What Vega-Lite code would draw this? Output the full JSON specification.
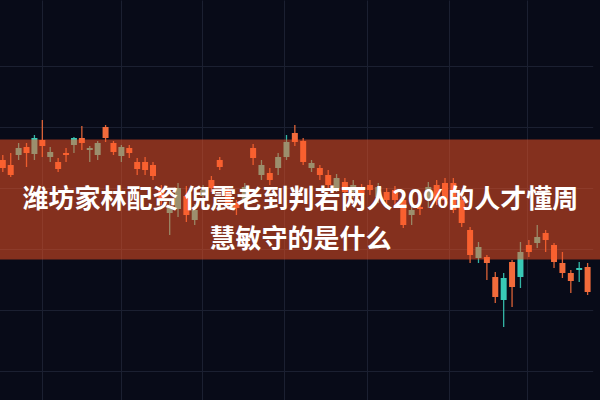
{
  "$schema": "https://vega.github.io/schema/vega-lite/v6.json",
  "width": 600,
  "height": 400,
  "autosize": {"type": "fit", "contains": "padding"},
  "padding": 0,
  "background": "#080b18",
  "config": {
    "view": {"stroke": null},
    "axis": {
      "grid": true,
      "gridColor": "#1b2031",
      "gridWidth": 1,
      "labels": false,
      "ticks": false,
      "domain": false,
      "title": null
    }
  },
  "data": {
    "values": [
      {"t": -1, "open": 58, "close": 60, "high": 61.25, "low": 57},
      {"t": 0, "open": 56.25, "close": 58.75, "high": 61.75, "low": 55.75},
      {"t": 1, "open": 63, "close": 61.25, "high": 64.25, "low": 60},
      {"t": 2, "open": 61.75, "close": 63.25, "high": 64.25, "low": 58.25},
      {"t": 3, "open": 65.5, "close": 61.5, "high": 66.25, "low": 60},
      {"t": 4, "open": 63.5, "close": 65, "high": 70, "low": 60.75},
      {"t": 5, "open": 62, "close": 60.75, "high": 63.25, "low": 59.5},
      {"t": 6, "open": 57.75, "close": 59.5, "high": 60.5, "low": 57},
      {"t": 7, "open": 61.25, "close": 61.75, "high": 63, "low": 59.5},
      {"t": 8, "open": 65.5, "close": 63.75, "high": 65.75, "low": 61.75},
      {"t": 9, "open": 64.25, "close": 65.5, "high": 68.5, "low": 62.5},
      {"t": 10, "open": 63, "close": 62.5, "high": 63.5, "low": 59.5},
      {"t": 11, "open": 64.25, "close": 61.25, "high": 64.75, "low": 60},
      {"t": 12, "open": 65.5, "close": 68.25, "high": 68.75, "low": 64.5},
      {"t": 13, "open": 62, "close": 64.25, "high": 64.75, "low": 61.25},
      {"t": 14, "open": 63.25, "close": 61, "high": 63.75, "low": 59.5},
      {"t": 15, "open": 61.75, "close": 63, "high": 63.75, "low": 60.5},
      {"t": 16, "open": 57.75, "close": 59.5, "high": 60.5, "low": 56.25},
      {"t": 17, "open": 57.5, "close": 59.5, "high": 60.75, "low": 56.25},
      {"t": 18, "open": 56, "close": 58.75, "high": 59.5, "low": 55},
      {"t": 19, "open": 50, "close": 52.5, "high": 53.75, "low": 48.75},
      {"t": 20, "open": 48.25, "close": 46.75, "high": 50, "low": 41.25},
      {"t": 21, "open": 53, "close": 47.75, "high": 54.25, "low": 45.75},
      {"t": 22, "open": 46.25, "close": 51, "high": 53.5, "low": 44.5},
      {"t": 23, "open": 47.5, "close": 45, "high": 49, "low": 43.75},
      {"t": 24, "open": 52.5, "close": 51, "high": 53.75, "low": 50},
      {"t": 25, "open": 53, "close": 55, "high": 56, "low": 52},
      {"t": 26, "open": 58.25, "close": 60, "high": 60.75, "low": 57.5},
      {"t": 27, "open": 49.25, "close": 52.25, "high": 53, "low": 47.5},
      {"t": 28, "open": 48, "close": 49.25, "high": 50, "low": 46.25},
      {"t": 29, "open": 53.25, "close": 49.5, "high": 54.25, "low": 48.25},
      {"t": 30, "open": 60.5, "close": 63, "high": 64, "low": 58.75},
      {"t": 31, "open": 58.75, "close": 56.25, "high": 60, "low": 55},
      {"t": 32, "open": 55, "close": 56.75, "high": 58, "low": 53.75},
      {"t": 33, "open": 60.75, "close": 58, "high": 61.75, "low": 56.25},
      {"t": 34, "open": 64.5, "close": 60.75, "high": 66.25, "low": 60},
      {"t": 35, "open": 64.5, "close": 66.75, "high": 68.75, "low": 63.5},
      {"t": 36, "open": 59.5, "close": 64.75, "high": 65.5, "low": 58.75},
      {"t": 37, "open": 59.25, "close": 58, "high": 60, "low": 57},
      {"t": 38, "open": 56.25, "close": 58, "high": 58.75, "low": 55},
      {"t": 39, "open": 53.75, "close": 56.25, "high": 57.5, "low": 52.5},
      {"t": 40, "open": 55.5, "close": 53, "high": 56.5, "low": 52},
      {"t": 41, "open": 52, "close": 54.5, "high": 55.5, "low": 51},
      {"t": 42, "open": 53.75, "close": 52, "high": 55, "low": 50.5},
      {"t": 43, "open": 51.25, "close": 53, "high": 54, "low": 50},
      {"t": 44, "open": 52.5, "close": 53.75, "high": 55, "low": 51.25},
      {"t": 45, "open": 53.25, "close": 50.75, "high": 54.25, "low": 49.25},
      {"t": 46, "open": 50, "close": 52, "high": 53, "low": 48.75},
      {"t": 47, "open": 50, "close": 52.5, "high": 53.5, "low": 48},
      {"t": 48, "open": 43.75, "close": 50, "high": 51, "low": 43},
      {"t": 49, "open": 47.5, "close": 46.25, "high": 49.25, "low": 43.75},
      {"t": 50, "open": 47.75, "close": 48.25, "high": 49.5, "low": 46.25},
      {"t": 51, "open": 53.25, "close": 50, "high": 54.5, "low": 48},
      {"t": 52, "open": 50, "close": 53.75, "high": 55, "low": 48.75},
      {"t": 53, "open": 50, "close": 54.25, "high": 55.5, "low": 48.75},
      {"t": 54, "open": 47.5, "close": 54.25, "high": 55.5, "low": 46.75},
      {"t": 55, "open": 44.25, "close": 50, "high": 51.25, "low": 43.25},
      {"t": 56, "open": 36.25, "close": 42.5, "high": 43.25, "low": 34.25},
      {"t": 57, "open": 38.25, "close": 35.5, "high": 39.5, "low": 34.25},
      {"t": 58, "open": 34.25, "close": 35.75, "high": 36.25, "low": 30},
      {"t": 59, "open": 25.75, "close": 30.75, "high": 32, "low": 24.25},
      {"t": 60, "open": 30.5, "close": 25, "high": 31.75, "low": 18.25},
      {"t": 61, "open": 28.25, "close": 34.5, "high": 35, "low": 23.25},
      {"t": 62, "open": 37, "close": 30.75, "high": 39.5, "low": 28},
      {"t": 63, "open": 37, "close": 38.75, "high": 40, "low": 35.75},
      {"t": 64, "open": 40.75, "close": 39.25, "high": 43.75, "low": 38},
      {"t": 65, "open": 40, "close": 41.75, "high": 42.5, "low": 37},
      {"t": 66, "open": 34.5, "close": 38.75, "high": 39.25, "low": 33},
      {"t": 67, "open": 31.75, "close": 34.25, "high": 37, "low": 30.5},
      {"t": 68, "open": 29.75, "close": 31.75, "high": 32.5, "low": 26.75},
      {"t": 69, "open": 33, "close": 32.5, "high": 34.5, "low": 29.5},
      {"t": 70, "open": 27, "close": 33.25, "high": 34.25, "low": 26.25}
    ]
  },
  "layer": [
    {
      "mark": {"type": "rule", "strokeWidth": 1.3, "opacity": 0.9, "clip": true},
      "encoding": {
        "x": {
          "field": "t",
          "type": "quantitative",
          "scale": {"domain": [-1, 18, 55, 70], "range": [-2, 153, 461.7, 592.7], "nice": false, "zero": false},
          "axis": {"values": [3.9, 13.95, 23.9, 33.75, 43.6, 53.45, 62.8]}
        },
        "y": {
          "field": "low",
          "type": "quantitative",
          "scale": {"domain": [0, 100], "nice": false, "zero": false},
          "axis": {"values": [91.25, 83.6, 76, 68.3, 60.7, 53, 45.4, 37.7, 30.1, 22.5, 14.8, 7.2]}
        },
        "y2": {"field": "high"},
        "color": {
          "condition": {"test": "datum.close >= datum.open", "value": "#f26b3b"},
          "value": "#38c9b6"
        }
      }
    },
    {
      "mark": {"type": "bar", "size": 6, "clip": true},
      "encoding": {
        "x": {"field": "t", "type": "quantitative"},
        "y": {"field": "open", "type": "quantitative"},
        "y2": {"field": "close"},
        "color": {
          "condition": {"test": "datum.close >= datum.open", "value": "#f26b3b"},
          "value": "#38c9b6"
        }
      }
    },
    {
      "data": {"values": [{"lo": 35.1, "hi": 65.1}]},
      "mark": {"type": "rect", "color": "#ff5624", "opacity": 0.5, "clip": true},
      "encoding": {
        "y": {"field": "lo", "type": "quantitative"},
        "y2": {"field": "hi"}
      }
    },
    {
      "data": {"values": [{}]},
      "mark": {
        "type": "text",
        "text": ["潍坊家林配资 倪震老到判若两人20%的人才懂周", "慧敏守的是什么"],
        "font": "Noto Sans CJK SC",
        "fontWeight": "bold",
        "fontSize": 26,
        "lineHeight": 40,
        "color": "#ffffff",
        "align": "center",
        "baseline": "middle"
      },
      "encoding": {
        "x": {"datum": 35.67, "type": "quantitative"},
        "y": {"datum": 50, "type": "quantitative"}
      }
    }
  ]
}
